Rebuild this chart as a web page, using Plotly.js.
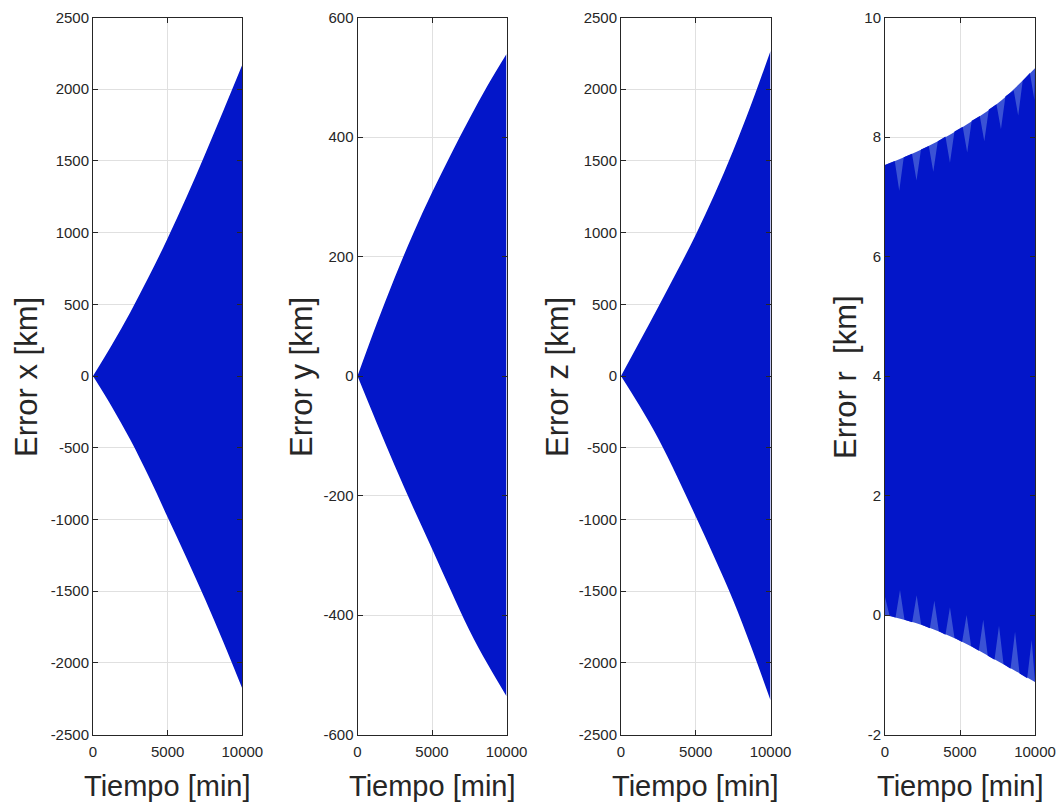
<!DOCTYPE html>
<html>
<head>
<meta charset="utf-8">
<script src="https://cdn.plot.ly/plotly-3.0.1.min.js"></script>
<style>html,body{margin:0;padding:0;background:#fff;}#chart{width:1062px;height:805px;}</style>
</head>
<body>
<div id="chart"></div>
<script>
// ---- Envelope data (time in min, error in km) ----
const tEnv = [0, 1250, 2500, 3750, 5000, 6250, 7500, 8750, 10000];
// Panel 1: Error x
const eX_up = [0, 215, 445, 695, 960, 1245, 1545, 1855, 2170];
const eX_lo = [0, -212, -445, -705, -985, -1265, -1555, -1860, -2180];
// Panel 2: Error y
const eY_up = [0, 85, 165, 239, 307, 370, 430, 487, 539];
const eY_lo = [0, -76, -150, -221, -289, -358, -425, -483, -536];
// Panel 3: Error z
const eZ_up = [0, 240, 483, 730, 985, 1265, 1570, 1905, 2266];
const eZ_lo = [0, -210, -437, -700, -980, -1265, -1563, -1900, -2262];
// Panel 4: Error r (outer envelope)
const tR = [0, 2500, 5000, 7500, 10000];
const eR_up = [7.53, 7.80, 8.14, 8.56, 9.15];
const eR_lo = [0, -0.17, -0.43, -0.77, -1.12];
// Panel 4: dense core boundary (lighter wedges appear between core and envelope)
const tR_coreUp = [0, 650, 950, 1250, 1800, 2100, 2400, 2920, 3220, 3520, 4030, 4330, 4630, 5180, 5480, 5780, 6320, 6620, 6920, 7430, 7730, 8030, 8580, 8880, 9180, 9660, 9960, 10000];
const eR_coreUp = [7.53, 7.60, 7.10, 7.66, 7.72, 7.27, 7.79, 7.85, 7.42, 7.93, 8.01, 7.57, 8.09, 8.17, 7.74, 8.27, 8.35, 7.93, 8.46, 8.55, 8.13, 8.68, 8.78, 8.36, 8.94, 9.07, 8.62, 9.15];
const tR_coreLo = [0, 300, 700, 1000, 1300, 1810, 2110, 2410, 2990, 3290, 3590, 4030, 4330, 4630, 5140, 5440, 5740, 6250, 6550, 6850, 7300, 7600, 7900, 8370, 8670, 8970, 9480, 9780, 10000];
const eR_coreLo = [0.30, -0.01, -0.04, 0.42, -0.08, -0.12, 0.33, -0.16, -0.22, 0.24, -0.27, -0.33, 0.13, -0.38, -0.45, 0.00, -0.52, -0.60, -0.08, -0.68, -0.75, -0.18, -0.82, -0.90, -0.28, -0.98, -1.06, -0.42, -1.12];

// ---- Axis ticks ----
const xTickVals = [0, 5000, 10000];
const xTickText = ['0', '5000', '10000'];
const yTickX = [-2500, -2000, -1500, -1000, -500, 0, 500, 1000, 1500, 2000, 2500];
const yTickXText = ['-2500', '-2000', '-1500', '-1000', '-500', '0', '500', '1000', '1500', '2000', '2500'];
const yTickY = [-600, -400, -200, 0, 200, 400, 600];
const yTickYText = ['-600', '-400', '-200', '0', '200', '400', '600'];
const yTickR = [-2, 0, 2, 4, 6, 8, 10];
const yTickRText = ['-2', '0', '2', '4', '6', '8', '10'];

const yTitles = ['Error x [km]', 'Error y [km]', 'Error z [km]', 'Error r\u00a0\u00a0[km]'];
const xTitle = 'Tiempo [min]';

const dark = 'rgb(3,22,201)';
const light = 'rgb(58,82,213)';

function band(tLo, eLo, tUp, eUp, ax, color, shape) {
  const ln = {width: 0, color: color, shape: shape, smoothing: 1};
  return [
    {x: tLo, y: eLo, xaxis: 'x' + ax, yaxis: 'y' + ax, mode: 'lines', line: ln, hoverinfo: 'skip', showlegend: false, type: 'scatter'},
    {x: tUp, y: eUp, xaxis: 'x' + ax, yaxis: 'y' + ax, mode: 'lines', line: ln, fill: 'tonexty', fillcolor: color, hoverinfo: 'skip', showlegend: false, type: 'scatter'}
  ];
}

const data = [].concat(
  band(tEnv, eX_lo, tEnv, eX_up, '', dark, 'spline'),
  band(tEnv, eY_lo, tEnv, eY_up, '2', dark, 'spline'),
  band(tEnv, eZ_lo, tEnv, eZ_up, '3', dark, 'spline'),
  band(tR, eR_lo, tR, eR_up, '4', light, 'spline'),
  band(tR_coreLo, eR_coreLo, tR_coreUp, eR_coreUp, '4', dark, 'linear')
);

const W = 1062, H = 805;
const xDomains = [[93, 242.3], [357.5, 506.5], [621, 770.5], [885, 1035]];
const yDom = [(H - 734.5) / H, (H - 17.5) / H];
const axCol = '#262626';
const tickFont = {family: '"Liberation Sans", Arial, sans-serif', size: 15, color: axCol};

function xAxis(i) {
  return {
    domain: [xDomains[i][0] / W, xDomains[i][1] / W], anchor: i === 0 ? 'y' : 'y' + (i + 1),
    range: [0, 10000], tickvals: xTickVals, ticktext: xTickText,
    ticks: 'inside', ticklen: 5, tickcolor: axCol, showline: true, linecolor: axCol, linewidth: 1,
    mirror: 'ticks', showgrid: true, gridcolor: '#e0e0e0', gridwidth: 1, zeroline: false,
    tickfont: tickFont, ticklabelstandoff: 3, fixedrange: true
  };
}
function yAxis(i, range, vals, text) {
  return {
    domain: yDom, anchor: i === 0 ? 'x' : 'x' + (i + 1),
    range: range, tickvals: vals, ticktext: text,
    ticks: 'inside', ticklen: 5, tickcolor: axCol, showline: true, linecolor: axCol, linewidth: 1,
    mirror: 'ticks', showgrid: true, gridcolor: '#e0e0e0', gridwidth: 1, zeroline: false,
    tickfont: tickFont, fixedrange: true
  };
}

const yTitleFont = {family: '"Liberation Sans", Arial, sans-serif', size: 31, color: axCol};
const xTitleFont = {family: '"Liberation Sans", Arial, sans-serif', size: 29, color: axCol};
const yTitleX = [26, 301, 557, 845];
const annotations = [];
for (let i = 0; i < 4; i++) {
  annotations.push({text: yTitles[i], xref: 'paper', yref: 'paper', x: yTitleX[i] / W, y: (H - 377) / H,
    textangle: -90, showarrow: false, xanchor: 'center', yanchor: 'middle', font: yTitleFont});
  annotations.push({text: xTitle, xref: 'paper', yref: 'paper', x: (xDomains[i][0] + xDomains[i][1]) / 2 / W, y: (H - 786) / H,
    showarrow: false, xanchor: 'center', yanchor: 'middle', font: xTitleFont});
}

const layout = {
  width: W, height: H,
  margin: {l: 0, r: 0, t: 0, b: 0},
  paper_bgcolor: '#ffffff', plot_bgcolor: '#ffffff',
  showlegend: false,
  xaxis: xAxis(0), xaxis2: xAxis(1), xaxis3: xAxis(2), xaxis4: xAxis(3),
  yaxis: yAxis(0, [-2500, 2500], yTickX, yTickXText),
  yaxis2: yAxis(1, [-600, 600], yTickY, yTickYText),
  yaxis3: yAxis(2, [-2500, 2500], yTickX, yTickXText),
  yaxis4: yAxis(3, [-2, 10], yTickR, yTickRText),
  annotations: annotations
};

Plotly.newPlot('chart', data, layout, {displayModeBar: false, staticPlot: true});
</script>
</body>
</html>
